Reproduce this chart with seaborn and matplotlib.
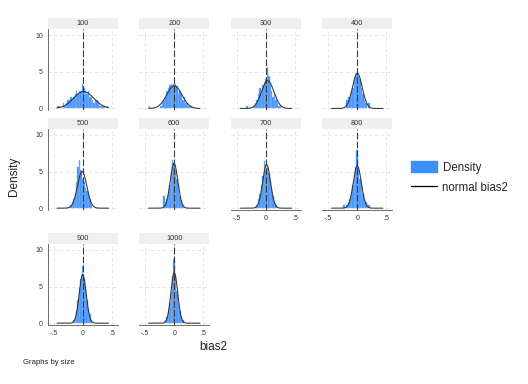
import numpy as np
import pandas as pd
import seaborn as sns
import matplotlib.pyplot as plt
from matplotlib.patches import Patch
from matplotlib.lines import Line2D

# panels (Stata: histogram bias2, normal by(size))
sizes = [100, 200, 300, 400, 500, 600, 700, 800, 900, 1000]

# common bins
bin_start = -0.44
bin_width = 0.025
n_bins = 35

# bar heights (density) per panel, one value per bin
h100 = [0.4, 0.4, 0, 0, 0.8, 0.4, 0.8, 1.2, 1.2, 1.6, 1.2, 1.6, 2.0, 2.4, 2.0, 2.4, 2.4, 3.4,
        2.8, 2.4, 2.0, 2.4, 1.6, 1.6, 1.2, 0.8, 1.2, 1.2, 0.8, 0.4, 0.4, 0.4, 0.4, 0, 0.4]
h200 = [0.4, 0, 0, 0, 0, 0, 0, 0, 0.4, 0.8, 1.2, 1.6, 2.4, 2.8, 3.2, 3.4, 3.2, 3.4,
        3.4, 3.0, 2.0, 2.4, 2.0, 1.2, 1.6, 0.8, 0.8, 0.4, 0.4, 0.4, 0, 0, 0, 0, 0]
h300 = [0, 0, 0, 0, 0.4, 0, 0, 0, 0, 0.4, 0.8, 1.2, 2.0, 2.8, 2.0, 3.2, 3.6, 4.0,
        5.6, 4.4, 3.2, 2.4, 1.6, 2.0, 1.2, 0.8, 0.4, 0.4, 0, 0, 0, 0, 0, 0, 0]
h400 = [0, 0, 0, 0, 0, 0, 0, 0, 0, 0, 1.2, 1.6, 1.6, 2.4, 2.8, 4.0, 4.4, 4.8,
        4.4, 4.0, 2.8, 2.0, 1.2, 0.8, 0, 0.8, 0, 0, 0, 0, 0, 0, 0, 0, 0]
h500 = [0, 0, 0, 0, 0, 0, 0, 0, 0, 0.4, 0.8, 1.2, 2.0, 3.6, 5.6, 6.6, 5.2, 4.0,
        3.6, 2.8, 2.4, 2.0, 1.2, 0.4, 0, 0, 0, 0, 0, 0, 0, 0, 0, 0, 0]
h600 = [0, 0, 0, 0, 0, 0, 0, 0, 0, 0, 1.6, 0.8, 1.2, 2.0, 3.2, 4.8, 6.6, 6.0,
        5.2, 4.0, 3.2, 1.6, 0.8, 0.4, 0, 0, 0, 0, 0, 0, 0, 0, 0, 0, 0]
h700 = [0, 0, 0, 0, 0, 0, 0, 0, 0, 0, 0, 0.4, 1.2, 2.0, 3.2, 4.4, 6.4, 5.2,
        5.6, 4.8, 3.6, 2.8, 1.6, 0.8, 0.4, 0, 0, 0, 0, 0, 0, 0, 0, 0, 0]
h800 = [0, 0, 0, 0, 0, 0, 0, 0, 0.4, 0, 0.4, 0.8, 1.2, 2.0, 3.2, 4.0, 5.6, 8.0,
        5.2, 4.0, 3.2, 2.0, 1.2, 0.8, 0.4, 0.4, 0, 0, 0, 0, 0, 0, 0, 0, 0]
h900 = [0, 0, 0, 0, 0, 0, 0, 0, 0, 0, 0, 0.4, 0.8, 1.6, 3.2, 4.8, 6.0, 7.8,
        6.0, 4.8, 3.2, 2.0, 1.2, 0.4, 0, 0, 0, 0, 0, 0, 0, 0, 0, 0, 0]
h1000 = [0, 0, 0, 0, 0, 0, 0, 0, 0, 0, 0, 0.4, 0.8, 1.6, 2.8, 4.4, 6.4, 8.8,
         6.4, 4.4, 2.8, 1.6, 0.8, 0.4, 0, 0, 0, 0, 0, 0, 0, 0, 0, 0, 0]

# fitted normal per panel
norm_mean = [0.015, 0.0, 0.03, 0.0, -0.01, -0.005, 0.01, 0.0, 0.0, 0.0]
norm_sd = [0.173, 0.129, 0.105, 0.083, 0.080, 0.065, 0.067, 0.069, 0.060, 0.058]
curve_lo, curve_hi = -0.44, 0.44

x_ticks = [-0.5, 0, 0.5]
x_ticklabels = ["-.5", "0", ".5"]
y_ticks = [0, 5, 10]

heights = [h100, h200, h300, h400, h500, h600, h700, h800, h900, h1000]
edges = bin_start + bin_width * np.arange(n_bins + 1)
centers = edges[:-1] + bin_width / 2

df = pd.DataFrame({
    "size": np.repeat(sizes, n_bins),
    "center": np.tile(centers, len(sizes)),
    "height": np.concatenate(heights),
})

sns.set_style("white")
plt.rcParams["font.family"] = ["Liberation Sans", "DejaVu Sans"]

W, H = 528, 384
fig = plt.figure(figsize=(W / 100, H / 100), dpi=100)

bar_color = "#3d8ff8"
col_left = [47.7, 139.3, 231.0, 322.3]
row_top = [29.3, 129.0, 244.0]
pw, ph, strip_h = 70, 81, 11


def px_axes(x, y, w, h):
    return fig.add_axes([x / W, 1 - (y + h) / H, w / W, h / H])


for i, s in enumerate(sizes):
    r, c = divmod(i, 4)
    x0, y0 = col_left[c], row_top[r]

    # strip with the panel label
    st = px_axes(x0, y0 - strip_h, pw, strip_h)
    st.set_facecolor("#efefef")
    st.set_xticks([])
    st.set_yticks([])
    for sp in st.spines.values():
        sp.set_visible(False)
    st.text(0.5, 0.5, str(s), ha="center", va="center", fontsize=5.3, color="#333333")

    ax = px_axes(x0, y0, pw, ph)
    sub = df[df["size"] == s].reset_index(drop=True)
    sns.histplot(data=sub, x="center", weights="height",
                 binwidth=bin_width, binrange=(float(edges[0]), float(edges[-1])),
                 stat="count", color=bar_color, alpha=1,
                 edgecolor="#86b9ff", linewidth=0.3, ax=ax)
    for p in list(ax.patches):
        if p.get_height() == 0:
            p.remove()

    xs = np.linspace(curve_lo, curve_hi, 300)
    ys = np.exp(-0.5 * ((xs - norm_mean[i]) / norm_sd[i]) ** 2) / (norm_sd[i] * np.sqrt(2 * np.pi))
    sns.lineplot(x=xs, y=ys, color="#333333", linewidth=0.75, ax=ax)

    # grid + xline(0)
    for gx in x_ticks:
        ax.axvline(gx, color="#e3e3e3", lw=0.6, ls=(0, (4, 3)), zorder=0)
    for gy in y_ticks:
        ax.axhline(gy, color="#e3e3e3", lw=0.6, ls=(0, (4, 3)), zorder=0)
    ax.axvline(0, color="#3a3a3a", lw=0.8, ls=(0, (6, 2)), zorder=5)

    ax.set_xlim(-0.6, 0.6)
    ax.set_ylim(-0.25, 10.8)
    ax.set_xlabel("")
    ax.set_ylabel("")
    for sp in ax.spines.values():
        sp.set_visible(False)

    if c == 0:
        ax.spines["left"].set_visible(True)
        ax.spines["left"].set_color("#555555")
        ax.spines["left"].set_linewidth(0.6)
        ax.set_yticks(y_ticks)
        ax.set_yticklabels([str(t) for t in y_ticks])
        ax.tick_params(axis="y", length=2, width=0.5, pad=1.5, labelsize=5, colors="#333333")
    else:
        ax.set_yticks([])

    if i >= 6:
        ax.spines["bottom"].set_visible(True)
        ax.spines["bottom"].set_color("#555555")
        ax.spines["bottom"].set_linewidth(0.6)
        ax.set_xticks(x_ticks)
        ax.set_xticklabels(x_ticklabels)
        ax.tick_params(axis="x", length=2, width=0.5, pad=1.5, labelsize=5, colors="#333333")
    else:
        ax.set_xticks([])

# axis titles and note
fig.text(14 / W, 1 - 176 / H, "Density", rotation=90, ha="center", va="center",
         fontsize=8.5, color="#222222")
fig.text(213 / W, 1 - 347 / H, "bias2", ha="center", va="center", fontsize=8.5, color="#222222")
fig.text(23 / W, 1 - 362 / H, "Graphs by size", ha="left", va="center", fontsize=5.6, color="#222222")

# legend
handles = [Patch(facecolor=bar_color, edgecolor=bar_color),
           Line2D([0], [0], color="black", lw=0.9)]
fig.legend(handles, ["Density", "normal bias2"], loc="center left",
           bbox_to_anchor=(401 / W, 1 - 177.5 / H), frameon=False, fontsize=8.3,
           handlelength=2.2, handleheight=1.08, handletextpad=0.5, labelspacing=0.65,
           borderpad=0.4)

fig.savefig("out.png", dpi=100)
